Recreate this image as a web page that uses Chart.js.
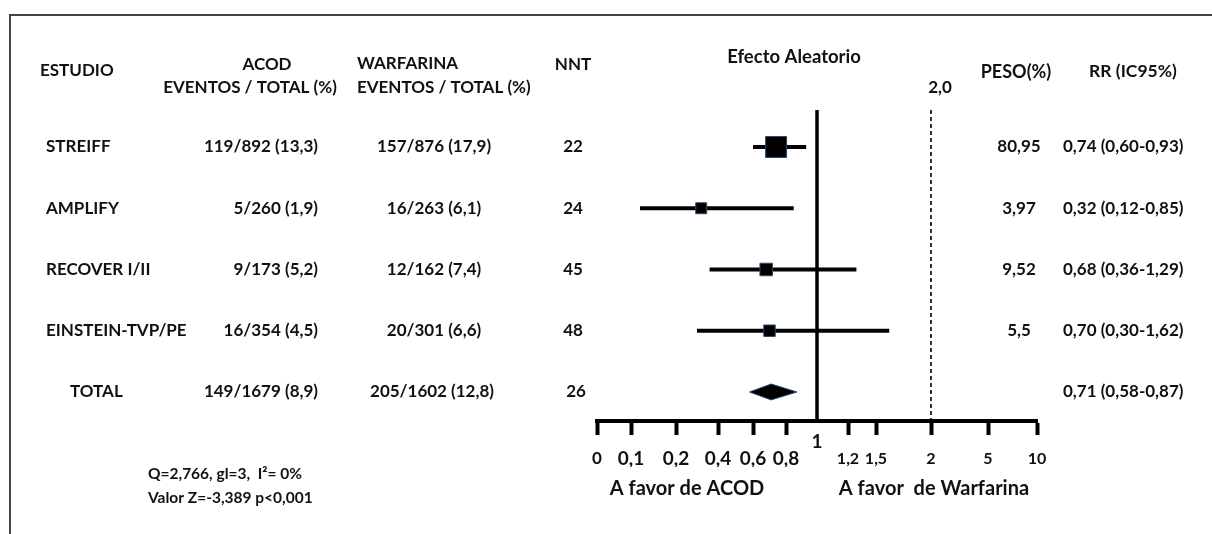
<!DOCTYPE html>
<html>
<head>
<meta charset="utf-8">
<script src="https://cdn.jsdelivr.net/npm/chart.js"></script>
<style>
html,body{margin:0;padding:0;background:#fff;}
#wrap{position:relative;width:1212px;height:534px;overflow:hidden;background:#fff;}
#frame{position:absolute;left:9px;top:14px;right:-10px;bottom:-10px;border-top:2px solid #444;border-left:2px solid #444;pointer-events:none;}
canvas{position:absolute;left:0;top:0;}
</style>
</head>
<body>
<div id="wrap"><canvas id="c" width="1212" height="534"></canvas><div id="frame"></div></div>
<script>
// ---------- DATA ----------
const studies = ['STREIFF', 'AMPLIFY', 'RECOVER I/II', 'EINSTEIN-TVP/PE'];
const totalLabel = 'TOTAL';
const acodEvents = [119, 5, 9, 16];
const acodTotals = [892, 260, 173, 354];
const acodPct = [13.3, 1.9, 5.2, 4.5];
const warfEvents = [157, 16, 12, 20];
const warfTotals = [876, 263, 162, 301];
const warfPct = [17.9, 6.1, 7.4, 6.6];
const nnt = [22, 24, 45, 48];
const weights = [80.95, 3.97, 9.52, 5.5];
const rr = [0.74, 0.32, 0.68, 0.70];
const rrLow = [0.60, 0.12, 0.36, 0.30];
const rrHigh = [0.93, 0.85, 1.29, 1.62];
const totalAcod = [149, 1679, 8.9];
const totalWarf = [205, 1602, 12.8];
const totalNnt = 26;
const pooled = [0.71, 0.58, 0.87]; // RR, low, high
const tickValues = [0, 0.1, 0.2, 0.4, 0.6, 0.8, 1, 1.2, 1.5, 2, 5, 10];
const refLine = 1;
const dashedLine = 2;
const heterogeneity = ['Q=2,766, gl=3,  I\u00B2= 0%', 'Valor Z=-3,389 p<0,001'];

// ---------- SCALE LAYOUT (axis spacing of the non-uniform ticks) ----------
const tickSpacing = [0, 34, 79, 121, 156, 189, 220, 251, 279, 334, 391, 440];

const fmt = (v, d) => (d === undefined ? String(v) : v.toFixed(d)).replace('.', ',');
const FONT = 'Lato, "Open Sans", sans-serif';

class ForestScale extends Chart.LinearScale {
  determineDataLimits() {
    this.min = tickValues[0];
    this.max = tickValues[tickValues.length - 1];
  }
  buildTicks() {
    return tickValues.map(v => ({ value: v }));
  }
  getPixelForValue(v) {
    const n = tickValues.length;
    let i = 0;
    while (i < n - 2 && v > tickValues[i + 1]) i++;
    const f = (v - tickValues[i]) / (tickValues[i + 1] - tickValues[i]);
    const pos = tickSpacing[i] + f * (tickSpacing[i + 1] - tickSpacing[i]);
    return this.getPixelForDecimal(pos / tickSpacing[n - 1]);
  }
  getValueForPixel(p) {
    const n = tickValues.length;
    const pos = this.getDecimalForPixel(p) * tickSpacing[n - 1];
    let i = 0;
    while (i < n - 2 && pos > tickSpacing[i + 1]) i++;
    const f = (pos - tickSpacing[i]) / (tickSpacing[i + 1] - tickSpacing[i]);
    return tickValues[i] + f * (tickValues[i + 1] - tickValues[i]);
  }
}
ForestScale.id = 'forest';
ForestScale.defaults = {};
Chart.register(ForestScale);

const totalRow = studies.length;
const DIAMOND_HALF = 0.13;

const ciSets = studies.map((s, i) => ({
  type: 'line',
  label: s + ' IC95%',
  data: [{ x: rrLow[i], y: i }, { x: rrHigh[i], y: i }],
  borderColor: '#000',
  borderWidth: 4,
  pointRadius: 0,
  fill: false,
  tension: 0,
  order: 3
}));

const boxSet = {
  type: 'scatter',
  label: 'RR',
  data: rr.map((v, i) => ({ x: v, y: i })),
  pointStyle: 'rect',
  pointRadius: ctx => (8.1 + 1.43 * Math.sqrt(weights[ctx.dataIndex])) / Math.SQRT2,
  backgroundColor: '#000',
  borderColor: '#2c4a70',
  borderWidth: 1,
  order: 1
};

const diamondSet = {
  type: 'line',
  label: totalLabel,
  data: [
    { x: pooled[1], y: totalRow },
    { x: pooled[0], y: totalRow - DIAMOND_HALF },
    { x: pooled[2], y: totalRow },
    { x: pooled[0], y: totalRow + DIAMOND_HALF },
    { x: pooled[1], y: totalRow }
  ],
  fill: 'shape',
  backgroundColor: '#000',
  borderColor: '#2c4a70',
  borderWidth: 1,
  pointRadius: 0,
  tension: 0,
  order: 2
};

const refLinesPlugin = {
  id: 'refLines',
  beforeDatasetsDraw(chart) {
    const { ctx, chartArea, scales } = chart;
    const x1 = scales.x.getPixelForValue(refLine);
    const x2 = scales.x.getPixelForValue(dashedLine);
    ctx.save();
    ctx.strokeStyle = '#000';
    ctx.lineWidth = 3.5;
    ctx.beginPath();
    ctx.moveTo(x1, chartArea.top);
    ctx.lineTo(x1, chartArea.bottom);
    ctx.stroke();
    ctx.lineWidth = 1.6;
    ctx.setLineDash([4, 3]);
    ctx.beginPath();
    ctx.moveTo(x2, chartArea.top);
    ctx.lineTo(x2, chartArea.bottom);
    ctx.stroke();
    ctx.restore();
  }
};

const textPlugin = {
  id: 'tableText',
  afterDraw(chart) {
    const { ctx, scales } = chart;
    const y = i => scales.y.getPixelForValue(i);
    const t = (s, x, yy, align, size) => {
      ctx.font = 'bold ' + (size || 17) + 'px ' + FONT;
      ctx.textAlign = align || 'left';
      ctx.fillText(s, x, yy);
    };
    ctx.save();
    ctx.fillStyle = '#111';
    ctx.textBaseline = 'middle';
    // headers
    t('ESTUDIO', 40, 71);
    t('ACOD', 267, 65, 'center');
    t('EVENTOS / TOTAL (%)', 250, 88, 'center');
    t('WARFARINA', 357, 64);
    t('EVENTOS / TOTAL (%)', 357, 88);
    t('NNT', 573, 65, 'center');
    t('Efecto Aleatorio', 794, 57, 'center', 18.5);
    t(fmt(dashedLine, 1), scales.x.getPixelForValue(dashedLine) + 9, 88, 'center');
    t('PESO(%)', 1016, 72, 'center', 18);
    t('RR (IC95%)', 1133, 71, 'center', 17.5);
    // rows
    studies.forEach((s, i) => {
      const yy = y(i);
      t(s, 46, yy);
      t(acodEvents[i] + '/' + acodTotals[i] + ' (' + fmt(acodPct[i]) + ')', 318, yy, 'right');
      t(warfEvents[i] + '/' + warfTotals[i] + ' (' + fmt(warfPct[i]) + ')', 434, yy, 'center');
      t(String(nnt[i]), 573, yy, 'center');
      t(fmt(weights[i]), 1019, yy, 'center');
      t(fmt(rr[i], 2) + ' (' + fmt(rrLow[i], 2) + '-' + fmt(rrHigh[i], 2) + ')', 1063, yy);
    });
    const yt = y(totalRow);
    t(totalLabel, 70, yt);
    t(totalAcod[0] + '/' + totalAcod[1] + ' (' + fmt(totalAcod[2]) + ')', 318, yt, 'right');
    t(totalWarf[0] + '/' + totalWarf[1] + ' (' + fmt(totalWarf[2]) + ')', 432, yt, 'center');
    t(String(totalNnt), 576, yt, 'center');
    t(fmt(pooled[0], 2) + ' (' + fmt(pooled[1], 2) + '-' + fmt(pooled[2], 2) + ')', 1063, yt);
    // axis extras
    t(String(refLine), scales.x.getPixelForValue(refLine), 442, 'center', 19);
    t('A favor de ACOD', 687, 489, 'center', 20);
    t('A favor  de Warfarina', 934, 489, 'center', 20);
    // heterogeneity
    t(heterogeneity[0], 148, 474, 'left', 15.5);
    t(heterogeneity[1], 148, 498, 'left', 15.5);
    ctx.restore();
  }
};

new Chart(document.getElementById('c'), {
  type: 'scatter',
  data: { datasets: [boxSet, diamondSet, ...ciSets] },
  options: {
    responsive: false,
    animation: false,
    events: [],
    devicePixelRatio: 1,
    layout: { padding: { left: 597, right: 175, top: 110, bottom: 67 } },
    plugins: { legend: { display: false }, tooltip: { enabled: false } },
    scales: {
      x: {
        type: 'forest',
        position: 'bottom',
        afterFit: s => { s.height = 46; },
        grid: {
          display: true,
          drawOnChartArea: false,
          drawTicks: true,
          tickLength: 14,
          tickWidth: 4,
          tickColor: ctx => (ctx.tick && ctx.tick.value === refLine) ? 'rgba(0,0,0,0)' : '#000'
        },
        border: { display: true, width: 4, color: '#000' },
        ticks: {
          autoSkip: false,
          maxRotation: 0,
          minRotation: 0,
          padding: 14,
          color: '#111',
          font: ctx => {
            const v = ctx.tick ? ctx.tick.value : 0;
            const size = v === 0 ? 17 : (v < 1 ? 19 : 16);
            return { family: FONT, weight: 'bold', size: size, lineHeight: '20px' };
          },
          callback: v => v === refLine ? '' : fmt(v)
        }
      },
      y: { type: 'linear', display: false, reverse: true, min: -0.604, max: 4.474 }
    }
  },
  plugins: [refLinesPlugin, textPlugin]
});
</script>
</body>
</html>
